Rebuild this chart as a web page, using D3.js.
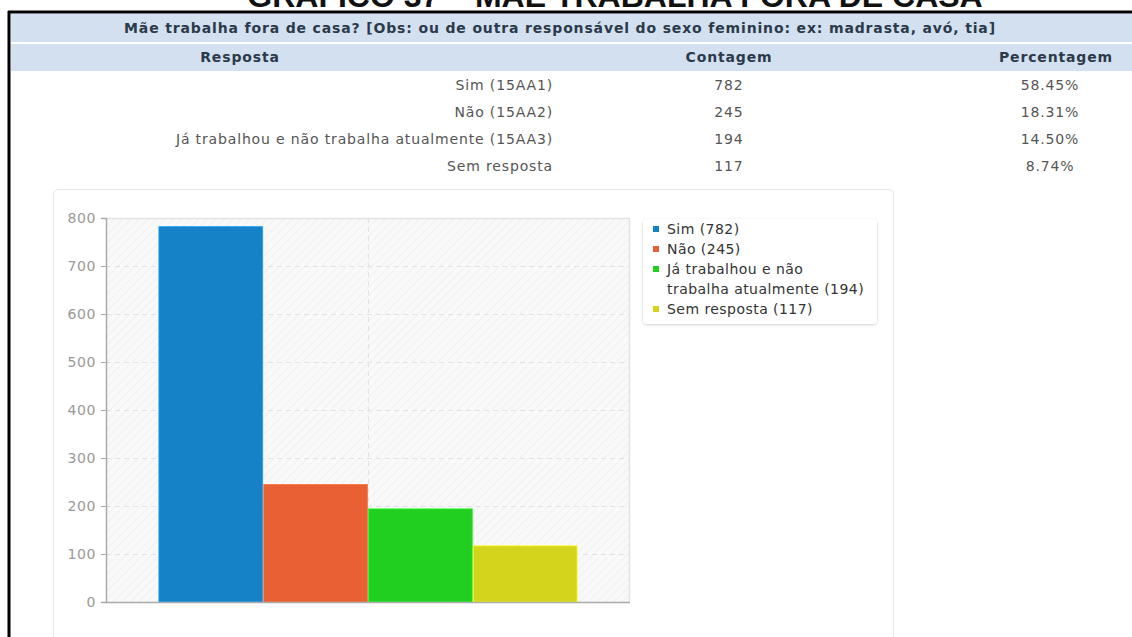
<!DOCTYPE html>
<html>
<head>
<meta charset="utf-8">
<script src="https://cdn.jsdelivr.net/npm/d3@7"></script>
<style>
  body { margin: 0; background: #fff; }
  svg { display: block; font-family: "DejaVu Sans", sans-serif; }
</style>
</head>
<body>
<div id="chart"></div>
<script>
'use strict';

var pageTitle = 'GRÁFICO 37 – MÃE TRABALHA FORA DE CASA';
var question = 'Mãe trabalha fora de casa? [Obs: ou de outra responsável do sexo feminino: ex: madrasta, avó, tia]';
var columnNames = ['Resposta', 'Contagem', 'Percentagem'];
var answers = ['Sim', 'Não', 'Já trabalhou e não trabalha atualmente', 'Sem resposta'];
var codes = ['(15AA1)', '(15AA2)', '(15AA3)', ''];
var counts = [782, 245, 194, 117];
var percents = ['58.45%', '18.31%', '14.50%', '8.74%'];
var colors = ['#1582c8', '#e86033', '#21cf21', '#d4d41c'];
var yTicks = [0, 100, 200, 300, 400, 500, 600, 700, 800];
var legendLines = [['Sim (782)'], ['Não (245)'], ['Já trabalhou e não', 'trabalha atualmente (194)'], ['Sem resposta (117)']];

var W = 1132, H = 637;

var svg = d3.select('#chart').append('svg')
  .attr('width', W)
  .attr('height', H);

var defs = svg.append('defs');
var hatch = defs.append('pattern')
  .attr('id', 'hatch')
  .attr('patternUnits', 'userSpaceOnUse')
  .attr('width', 6)
  .attr('height', 6)
  .attr('patternTransform', 'rotate(45)');
hatch.append('rect').attr('width', 6).attr('height', 6).attr('fill', '#f9f9f9');
hatch.append('line').attr('x1', 0).attr('y1', 0).attr('x2', 0).attr('y2', 6)
  .attr('stroke', '#eeeeee').attr('stroke-width', 1.5);

var shadow = defs.append('filter').attr('id', 'shadow')
  .attr('x', '-10%').attr('y', '-10%').attr('width', '120%').attr('height', '130%');
shadow.append('feDropShadow').attr('dx', 0).attr('dy', 1).attr('stdDeviation', 1.5)
  .attr('flood-color', '#000').attr('flood-opacity', 0.18);

// title of the page, mostly above the visible area
svg.append('text')
  .attr('x', 615)
  .attr('y', 7)
  .attr('text-anchor', 'middle')
  .attr('font-family', 'Liberation Sans, Arial, sans-serif')
  .attr('font-weight', 'bold')
  .attr('font-size', 32)
  .attr('fill', '#111')
  .text(pageTitle);

// page frame
svg.append('line').attr('x1', 8).attr('x2', W).attr('y1', 12).attr('y2', 12)
  .attr('stroke', '#000').attr('stroke-width', 3);
svg.append('line').attr('x1', 9).attr('x2', 9).attr('y1', 11).attr('y2', H)
  .attr('stroke', '#000').attr('stroke-width', 3);

// table
var table = svg.append('g')
  .attr('font-size', 14)
  .attr('letter-spacing', 0.85);
table.append('rect').attr('x', 11).attr('y', 14).attr('width', W - 11).attr('height', 28).attr('fill', '#d3e0f0');
table.append('rect').attr('x', 11).attr('y', 44).attr('width', W - 11).attr('height', 27).attr('fill', '#d3e0f0');

table.append('text')
  .attr('x', 560).attr('y', 33)
  .attr('text-anchor', 'middle')
  .attr('font-weight', 'bold')
  .attr('fill', '#2b3a4a')
  .text(question);

var colX = [240, 729, 1056];
table.selectAll('text.colhead')
  .data(columnNames)
  .enter().append('text')
  .attr('class', 'colhead')
  .attr('x', function(d, i) { return colX[i]; })
  .attr('y', 62)
  .attr('text-anchor', 'middle')
  .attr('font-weight', 'bold')
  .attr('fill', '#2b3a4a')
  .text(function(d) { return d; });

var rows = table.selectAll('g.row')
  .data(answers)
  .enter().append('g')
  .attr('class', 'row')
  .attr('transform', function(d, i) { return 'translate(0,' + (90 + i * 27) + ')'; });

rows.append('text')
  .attr('x', 553)
  .attr('text-anchor', 'end')
  .attr('fill', '#555')
  .text(function(d, i) { return codes[i] ? d + ' ' + codes[i] : d; });

rows.append('text')
  .attr('x', 729)
  .attr('text-anchor', 'middle')
  .attr('fill', '#555')
  .text(function(d, i) { return counts[i]; });

rows.append('text')
  .attr('x', 1050)
  .attr('text-anchor', 'middle')
  .attr('fill', '#555')
  .text(function(d, i) { return percents[i]; });

// chart panel
svg.append('rect')
  .attr('x', 53.5).attr('y', 189.5)
  .attr('width', 840).attr('height', 470)
  .attr('rx', 5)
  .attr('fill', '#fff')
  .attr('stroke', '#e6e6e6');

var margins = { left: 106, top: 218 };
var width = 524, height = 384;
var chart = svg.append('g')
  .attr('transform', 'translate(' + margins.left + ',' + margins.top + ')');

var x = d3.scaleBand()
  .domain(answers)
  .range([0, width])
  .paddingInner(0)
  .paddingOuter(0.5);

var y = d3.scaleLinear()
  .domain([0, 800])
  .range([height, 0]);

chart.append('rect')
  .attr('width', width).attr('height', height)
  .attr('fill', 'url(#hatch)');

// grid
chart.selectAll('line.hgrid')
  .data(yTicks.slice(1, -1))
  .enter().append('line')
  .attr('class', 'hgrid')
  .attr('x1', 0).attr('x2', width)
  .attr('y1', function(d) { return Math.round(y(d)) + 0.5; })
  .attr('y2', function(d) { return Math.round(y(d)) + 0.5; })
  .attr('stroke', '#e2e2e2')
  .attr('stroke-dasharray', '5,4');

chart.append('line')
  .attr('x1', width / 2 + 0.5).attr('x2', width / 2 + 0.5)
  .attr('y1', 0).attr('y2', height)
  .attr('stroke', '#e2e2e2')
  .attr('stroke-dasharray', '5,4');

// plot border (top/right)
chart.append('path')
  .attr('d', 'M0,0.5H' + (width - 0.5) + 'V' + height)
  .attr('fill', 'none')
  .attr('stroke', '#e4e4e4')
  .attr('stroke-width', 1.5);

// bars
chart.selectAll('rect.bar')
  .data(answers)
  .enter().append('rect')
  .attr('class', 'bar')
  .attr('x', function(d) { return x(d) + 0.5; })
  .attr('y', function(d, i) { return y(counts[i]); })
  .attr('width', x.bandwidth() - 1)
  .attr('height', function(d, i) { return height - y(counts[i]); })
  .attr('fill', function(d, i) { return colors[i]; })
  .attr('stroke', function(d, i) { return d3.color(colors[i]).brighter(0.6); })
  .attr('stroke-width', 0.8);

// axes
var yAxis = chart.append('g')
  .call(d3.axisLeft(y).tickValues(yTicks).tickSize(5).tickPadding(5));
yAxis.select('.domain').attr('stroke', '#aaa').attr('stroke-width', 1.5);
yAxis.selectAll('.tick line').attr('stroke', '#aaa');
yAxis.selectAll('.tick text')
  .attr('fill', '#999')
  .attr('font-size', 14)
  .attr('letter-spacing', 0.6)
  .attr('font-family', 'DejaVu Sans, sans-serif');

chart.append('line')
  .attr('x1', 0).attr('x2', width)
  .attr('y1', height + 0.5).attr('y2', height + 0.5)
  .attr('stroke', '#aaa')
  .attr('stroke-width', 1.5);

// legend
var legend = svg.append('g')
  .attr('transform', 'translate(643,219)');
legend.append('rect')
  .attr('width', 234).attr('height', 105)
  .attr('rx', 4)
  .attr('fill', '#fff')
  .attr('filter', 'url(#shadow)');

var lineH = 20;
var offsets = [0, 1, 2, 4];
var items = legend.selectAll('g.item')
  .data(legendLines)
  .enter().append('g')
  .attr('class', 'item')
  .attr('transform', function(d, i) { return 'translate(0,' + (10 + offsets[i] * lineH) + ')'; });

items.append('rect')
  .attr('x', 10).attr('y', -3)
  .attr('width', 6).attr('height', 6)
  .attr('fill', function(d, i) { return colors[i]; });

items.each(function(d) {
  var g = d3.select(this);
  d.forEach(function(line, k) {
    g.append('text')
      .attr('x', 24)
      .attr('y', k * lineH)
      .attr('dy', '0.35em')
      .attr('font-size', 14)
      .attr('letter-spacing', 0.45)
      .attr('fill', '#333')
      .text(line);
  });
});
</script>
</body>
</html>
